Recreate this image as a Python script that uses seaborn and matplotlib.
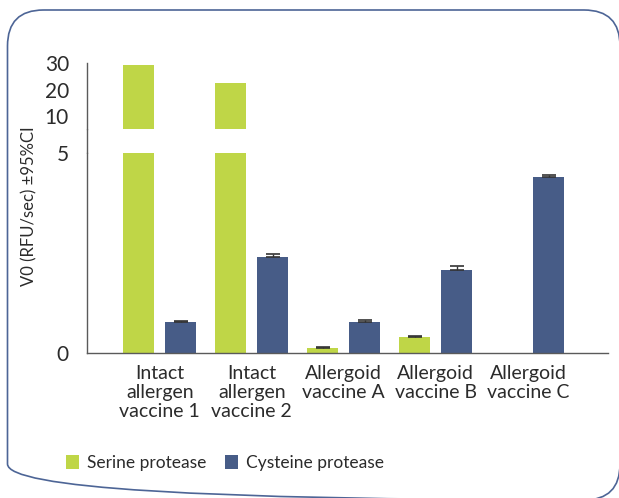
import matplotlib
matplotlib.use('Agg')
import matplotlib.pyplot as plt
from matplotlib.lines import Line2D
from matplotlib.patches import FancyBboxPatch
import numpy as np
import pandas as pd
import seaborn as sns

#chart values
vaccines = ['Intact\nallergen\nvaccine 1', 'Intact\nallergen\nvaccine 2',
            'Allergoid\nvaccine A', 'Allergoid\nvaccine B', 'Allergoid\nvaccine C']
proteases = ['Serine protease', 'Cysteine protease']
serine = [29.4, 22.5, 0.12, 0.39, 0.0]
serine_ci = [np.nan, np.nan, 0.02, 0.03, np.nan]
cysteine = [0.77, 2.39, 0.77, 2.07, 4.39]
cysteine_ci = [0.03, 0.07, 0.05, 0.11, 0.05]
colors = ['#BFD647', '#475C87']

#long table for seaborn
df = pd.DataFrame({
    'vaccine': vaccines * 2,
    'protease': [proteases[0]] * 5 + [proteases[1]] * 5,
    'v0': serine + cysteine,
})

sns.set_style('white')
plt.rcParams['font.family'] = ['Lato', 'DejaVu Sans']
text_col = '#2b2b2b'
axis_col = '#5a5a5a'

W, H = 619, 498
fig = plt.figure(figsize=(W / 100, H / 100), dpi=100)

#background axes in pixel units, holds the rounded frame
bg = fig.add_axes([0, 0, 1, 1], zorder=-1)
bg.set_xlim(0, W)
bg.set_ylim(H, 0)
bg.axis('off')
bg.add_patch(FancyBboxPatch((7.5, 10), 612.5, 490, boxstyle='round,pad=0,rounding_size=36',
                            facecolor='none', edgecolor='#4D6596', linewidth=1.2))

x0, x1 = 87, 608
ax_lo = fig.add_axes([x0 / W, 1 - 352.7 / H, (x1 - x0) / W, (352.7 - 153) / H])
ax_hi = fig.add_axes([x0 / W, 1 - 129.3 / H, (x1 - x0) / W, (129.3 - 63.3) / H])

for ax in (ax_lo, ax_hi):
    sns.barplot(data=df, x='vaccine', y='v0', hue='protease', palette=colors,
                hue_order=proteases, width=0.91, gap=0.26, saturation=1,
                errorbar=None, linewidth=0, ax=ax)
    ax.get_legend().remove()
    ax.set_xlim(-0.79, 4.87)
    ax.set_xlabel('')
    ax.set_ylabel('')
    ax.patch.set_alpha(0)
    for s in ['top', 'right']:
        ax.spines[s].set_visible(False)
    ax.spines['left'].set_color(axis_col)
    ax.spines['left'].set_linewidth(1.0)
    ax.tick_params(axis='y', direction='out', length=5, width=1.0, color=axis_col,
                   labelsize=15, labelcolor=text_col, pad=8)

#error bars (upper side only)
for cont, ci in zip(ax_lo.containers, [serine_ci, cysteine_ci]):
    for bar, e in zip(cont, ci):
        if np.isnan(e):
            continue
        xc = bar.get_x() + bar.get_width() / 2
        h = bar.get_height()
        ax_lo.errorbar(xc, h, yerr=[[0], [e]], fmt='none', ecolor='#333333',
                       elinewidth=1.0, capsize=5, capthick=1.2)

#lower part 0..5
ax_lo.set_ylim(0, 5)
ax_lo.set_yticks([0, 1, 2, 3, 4, 5])
ax_lo.set_yticklabels(['0', '', '', '', '', '5'])
ax_lo.set_yticks([5], minor=True)
ax_lo.tick_params(axis='y', which='minor', direction='inout', length=11, width=1.0, color=axis_col)
ax_lo.spines['bottom'].set_color(axis_col)
ax_lo.spines['bottom'].set_linewidth(1.0)
ax_lo.set_xticks(range(len(vaccines)))
ax_lo.set_xticklabels(vaccines, linespacing=1.15)
ax_lo.set_xticks([4.87], minor=True)
ax_lo.tick_params(axis='x', which='both', direction='out', length=5, width=1.0,
                  color=axis_col, labelsize=14, labelcolor=text_col, pad=4)

#upper part 5..30
ax_hi.set_ylim(5, 30)
ax_hi.set_yticks([10, 20, 30])
ax_hi.set_yticks([5], minor=True)
ax_hi.tick_params(axis='y', which='minor', direction='inout', length=11, width=1.0, color=axis_col)
ax_hi.spines['bottom'].set_visible(False)
ax_hi.set_xticks([])

#axis line through the break
fig.add_artist(Line2D([x0 / W, x0 / W], [1 - 153 / H, 1 - 129.3 / H],
                      transform=fig.transFigure, color=axis_col, linewidth=1.0))

fig.text(29 / W, 1 - 206 / H, 'V0 (RFU/sec) ±95%CI', rotation=90, ha='center', va='center',
         fontsize=12, color=text_col)

handles, labels = ax_lo.get_legend_handles_labels()
fig.legend(handles, labels, loc='center', bbox_to_anchor=(225 / W, 1 - 463 / H), ncol=2,
           frameon=False, fontsize=12.5, labelcolor=text_col, handlelength=0.75, handleheight=0.85,
           handletextpad=0.45, columnspacing=1.1, borderpad=0)

fig.savefig('out.png', dpi=100)
